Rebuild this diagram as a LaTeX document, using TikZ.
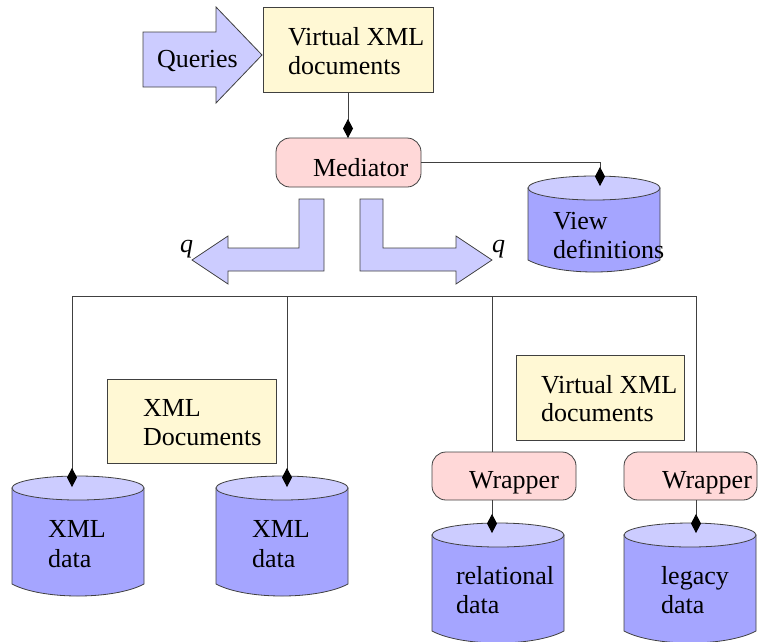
\documentclass[tikz,border=0pt]{standalone}
\usepackage{fontspec}
\setmainfont{Liberation Serif}
\usetikzlibrary{arrows.meta}
\definecolor{cylbody}{HTML}{A5A5FF}
\definecolor{cyltopc}{HTML}{CCCCFF}
\definecolor{arrowfill}{HTML}{CCCCFF}
\definecolor{notefill}{HTML}{FFF8D4}
\definecolor{procfill}{HTML}{FFD8D8}
\definecolor{linecol}{HTML}{404040}
\newcommand\mycyl[5]{%
  \draw[cylside] ({#1},{#3+12}) -- ({#1},{#4}) .. controls ({#1+30},{#4+16}) and ({#2-30},{#4+16}) .. ({#2},{#4}) -- ({#2},{#3+12}) -- cycle;
  \draw[cyltopstyle] ({(#1+#2)/2},{#3+12}) ellipse [x radius={(#2-#1)/2}, y radius=12];
}
\tikzset{
  cylside/.style={draw=linecol, fill=cylbody, line width=0.8pt},
  cyltopstyle/.style={draw=linecol, fill=cyltopc, line width=0.8pt},
  bigarrow/.style={draw=linecol, fill=arrowfill, line width=0.8pt},
  note/.style={draw=linecol, fill=notefill, rectangle, inner sep=0pt, outer sep=0pt, anchor=north west, line width=0.8pt},
  proc/.style={draw=linecol, fill=procfill, rectangle, rounded corners=14pt, inner sep=0pt, outer sep=0pt, anchor=north west, line width=0.8pt},
  lbl/.style={anchor=base west, inner sep=0pt, outer sep=0pt},
  plainline/.style={draw=linecol, line width=0.8pt},
  conn/.style={draw=linecol, line width=0.8pt, -{Diamond[length=19pt, width=10pt, fill=black, color=black]}},
}
\begin{document}
\begin{tikzpicture}[x=1pt, y=-1pt, font=\fontsize{26}{30}\selectfont]
\useasboundingbox (0,0) rectangle (759,641);

% Queries arrow
\draw[bigarrow] (143,32) -- (216,32) -- (216,7) -- (262,55) -- (216,103) -- (216,87) -- (143,87) -- cycle;

% boxes
\node[note, minimum width=170pt, minimum height=85pt] (vx1) at (263,7) {};
\node[proc, minimum width=145pt, minimum height=49pt] (med) at (276,138) {};
\node[note, minimum width=169pt, minimum height=84pt] (xd) at (107,379) {};
\node[note, minimum width=168pt, minimum height=85pt] (vx2) at (516,355) {};
\node[proc, minimum width=144pt, minimum height=48pt] (w1) at (432,452) {};
\node[proc, minimum width=133pt, minimum height=48pt] (w2) at (624,452) {};

% L-shaped arrows
\draw[bigarrow] (324,199) -- (324,271) -- (228,271) -- (228,284) -- (192,260) -- (228,236) -- (228,248) -- (299,248) -- (299,199) -- cycle;
\draw[bigarrow] (360,199) -- (360,271) -- (456,271) -- (456,284) -- (492,260) -- (456,236) -- (456,248) -- (383,248) -- (383,199) -- cycle;

% cylinders
\mycyl{528}{660}{176}{260}{271}
\mycyl{12}{144}{476}{584}{596}
\mycyl{216}{348}{476}{584}{596}
\mycyl{432}{564}{523}{631}{643}
\mycyl{624}{756}{523}{631}{643}

% coordinates
\coordinate (b1) at (72,296);
\coordinate (b2) at (287,296);
\coordinate (b3) at (492,296);
\coordinate (b4) at (696,296);
\coordinate (c1) at (72,487);
\coordinate (c2) at (287,487);
\coordinate (c3) at (492,533);
\coordinate (c4) at (696,533);
\coordinate (c5) at (600,186);

% connectors
\draw[conn] (vx1.south) -- (vx1.south |- med.north);
\draw[conn] (med.east) -| (c5);
\draw[plainline] (b1) -- (b4);
\draw[conn] (b1) -- (c1);
\draw[conn] (b2) -- (c2);
\draw[plainline] (b3) -- (b3 |- w1.north);
\draw[plainline] (b4) -- (b4 |- w2.north);
\draw[conn] (w1.south -| c3) -- (c3);
\draw[conn] (w2.south -| c4) -- (c4);

% texts
\node[lbl] (tq) at (157,67) {Queries};
\node[lbl] (tv1a) at (288,45) {Virtual XML};
\node[lbl] (tv1b) at (288,74) {documents};
\node[lbl] (tmed) at (313,176) {Mediator};
\node[lbl] (tvda) at (553,229) {View};
\node[lbl] (tvdb) at (553,258) {definitions};
\node[lbl] (tq1) at (180,252) {\textit{q}};
\node[lbl] (tq2) at (492,252) {\textit{q}};
\node[lbl] (txda) at (143,416) {XML};
\node[lbl] (txdb) at (143,445) {Documents};
\node[lbl] (tv2a) at (541,393) {Virtual XML};
\node[lbl] (tv2b) at (541,421) {documents};
\node[lbl] (tc1a) at (48,537) {XML};
\node[lbl] (tc1b) at (48,567) {data};
\node[lbl] (tc2a) at (252,537) {XML};
\node[lbl] (tc2b) at (252,567) {data};
\node[lbl] (tw1) at (469,488) {Wrapper};
\node[lbl] (tw2) at (662,488) {Wrapper};
\node[lbl] (tc3a) at (456,584) {relational};
\node[lbl] (tc3b) at (456,613) {data};
\node[lbl] (tc4a) at (661,584) {legacy};
\node[lbl] (tc4b) at (661,613) {data};
\end{tikzpicture}
\end{document}
